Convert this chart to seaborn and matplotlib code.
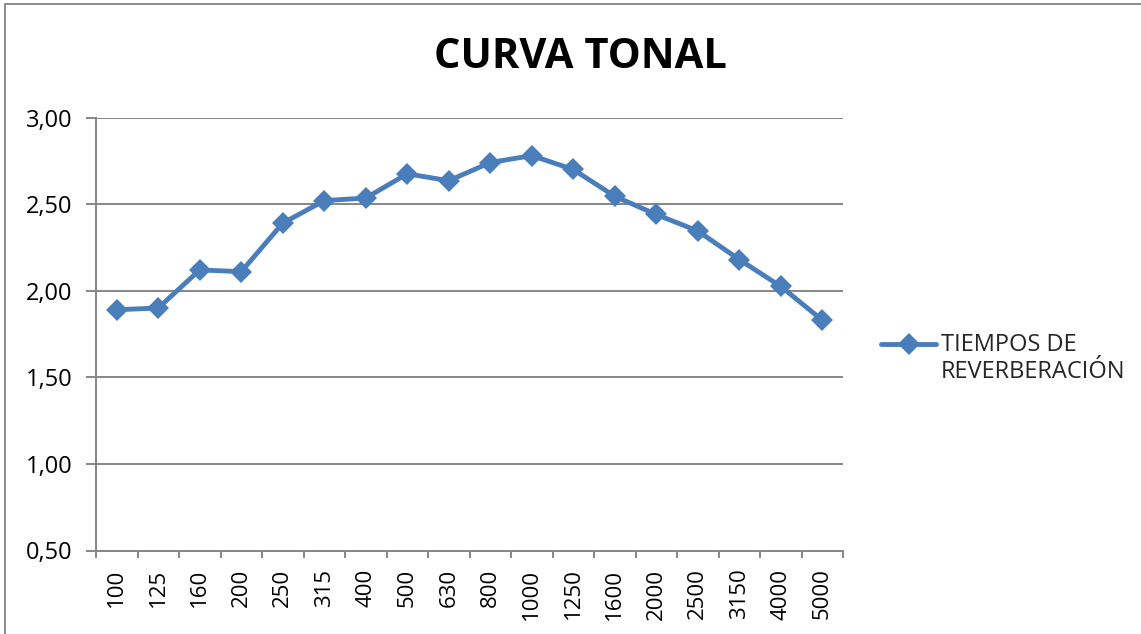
import numpy as np
import pandas as pd
import matplotlib
matplotlib.use("Agg")
import matplotlib.pyplot as plt
from matplotlib.patches import Rectangle
from matplotlib.legend_handler import HandlerLine2D
from matplotlib.ticker import FuncFormatter, MultipleLocator
import seaborn as sns

# Third-octave band centre frequencies (Hz) and reverberation times (s)
frecuencias = ["100", "125", "160", "200", "250", "315", "400", "500", "630",
               "800", "1000", "1250", "1600", "2000", "2500", "3150", "4000", "5000"]
tiempos = [1.89, 1.90, 2.12, 2.11, 2.39, 2.52, 2.535, 2.675, 2.635,
           2.74, 2.78, 2.70, 2.545, 2.44, 2.345, 2.18, 2.025, 1.83]
serie = "TIEMPOS DE\nREVERBERACIÓN"
titulo = "CURVA TONAL"

df = pd.DataFrame({"frecuencia": frecuencias, "tiempo": tiempos, "serie": serie})

sns.set_theme(style="white")
plt.rcParams["font.family"] = ["Open Sans", "DejaVu Sans"]

W, H = 1141, 634
fig = plt.figure(figsize=(W / 100, H / 100), dpi=100)
fig.patch.set_facecolor("white")

left, right, top, bottom = 96, 843, 117.5, 550.5
ax = fig.add_axes([left / W, 1 - bottom / H, (right - left) / W, (bottom - top) / H])

azul = "#4A7EBB"
gris = "#868686"

sns.lineplot(data=df, x="frecuencia", y="tiempo", hue="serie", palette=[azul],
             marker="D", markersize=11, markeredgewidth=0, linewidth=3.5,
             ax=ax, legend=True, sort=False)

n = len(frecuencias)
ax.set_xlim(-0.5, n - 0.5)
ax.set_ylim(0.5, 3.0)

# Horizontal gridlines every 0,50
ax.yaxis.set_major_locator(MultipleLocator(0.5))
ax.yaxis.set_major_formatter(FuncFormatter(lambda v, p: f"{v:.2f}".replace(".", ",")))
ax.grid(axis="y", color=gris, linewidth=1.4)
ax.grid(axis="x", visible=False)
ax.set_axisbelow(True)

# Category labels centred, tick marks on category boundaries
ax.set_xticks(np.arange(n))
ax.set_xticklabels(frecuencias, rotation=90, fontsize=16, color="black")
ax.set_xticks(np.arange(n + 1) - 0.5, minor=True)
ax.tick_params(axis="x", which="major", length=0, pad=13)
ax.tick_params(axis="x", which="minor", length=5, width=1.4, color=gris,
               direction="out", bottom=True)
ax.tick_params(axis="y", which="major", length=7, width=1.4, color=gris,
               direction="out", left=True, pad=10, labelsize=17, labelcolor="black")

for s in ["top", "right"]:
    ax.spines[s].set_visible(False)
for s in ["left", "bottom"]:
    ax.spines[s].set_color(gris)
    ax.spines[s].set_linewidth(1.4)

ax.set_xlabel("")
ax.set_ylabel("")


class HandleOnFirstLine(HandlerLine2D):
    """Place the legend key level with the first line of a two-line label."""
    def create_artists(self, legend, orig_handle, xdescent, ydescent, width,
                       height, fontsize, trans):
        arts = super().create_artists(legend, orig_handle, xdescent, ydescent,
                                      width, height, fontsize, trans)
        for a in arts:
            a.set_ydata(np.asarray(a.get_ydata(), dtype=float) + 0.62 * fontsize)
        return arts


handles, labels = ax.get_legend_handles_labels()
leg = ax.legend(handles, labels, loc="upper left",
                bbox_to_anchor=(881 / W, 1 - 333 / H), bbox_transform=fig.transFigure,
                frameon=False, fontsize=17, handlelength=2.35, handletextpad=0.2,
                borderpad=0, borderaxespad=0, labelspacing=0,
                handler_map={handles[0]: HandleOnFirstLine()})
for t in leg.get_texts():
    t.set_linespacing(1.15)

fig.text(580 / W, 1 - 57 / H, titulo, ha="center", va="center",
         fontsize=30, fontweight="bold", color="black")

# Chart area border
fig.add_artist(Rectangle((4.5 / W, -0.1), 2.0, 1.1 - 4.5 / H, transform=fig.transFigure,
                         fill=False, edgecolor="#8C8C8C", linewidth=1.4))

fig.savefig("out.png", dpi=100, facecolor="white")
